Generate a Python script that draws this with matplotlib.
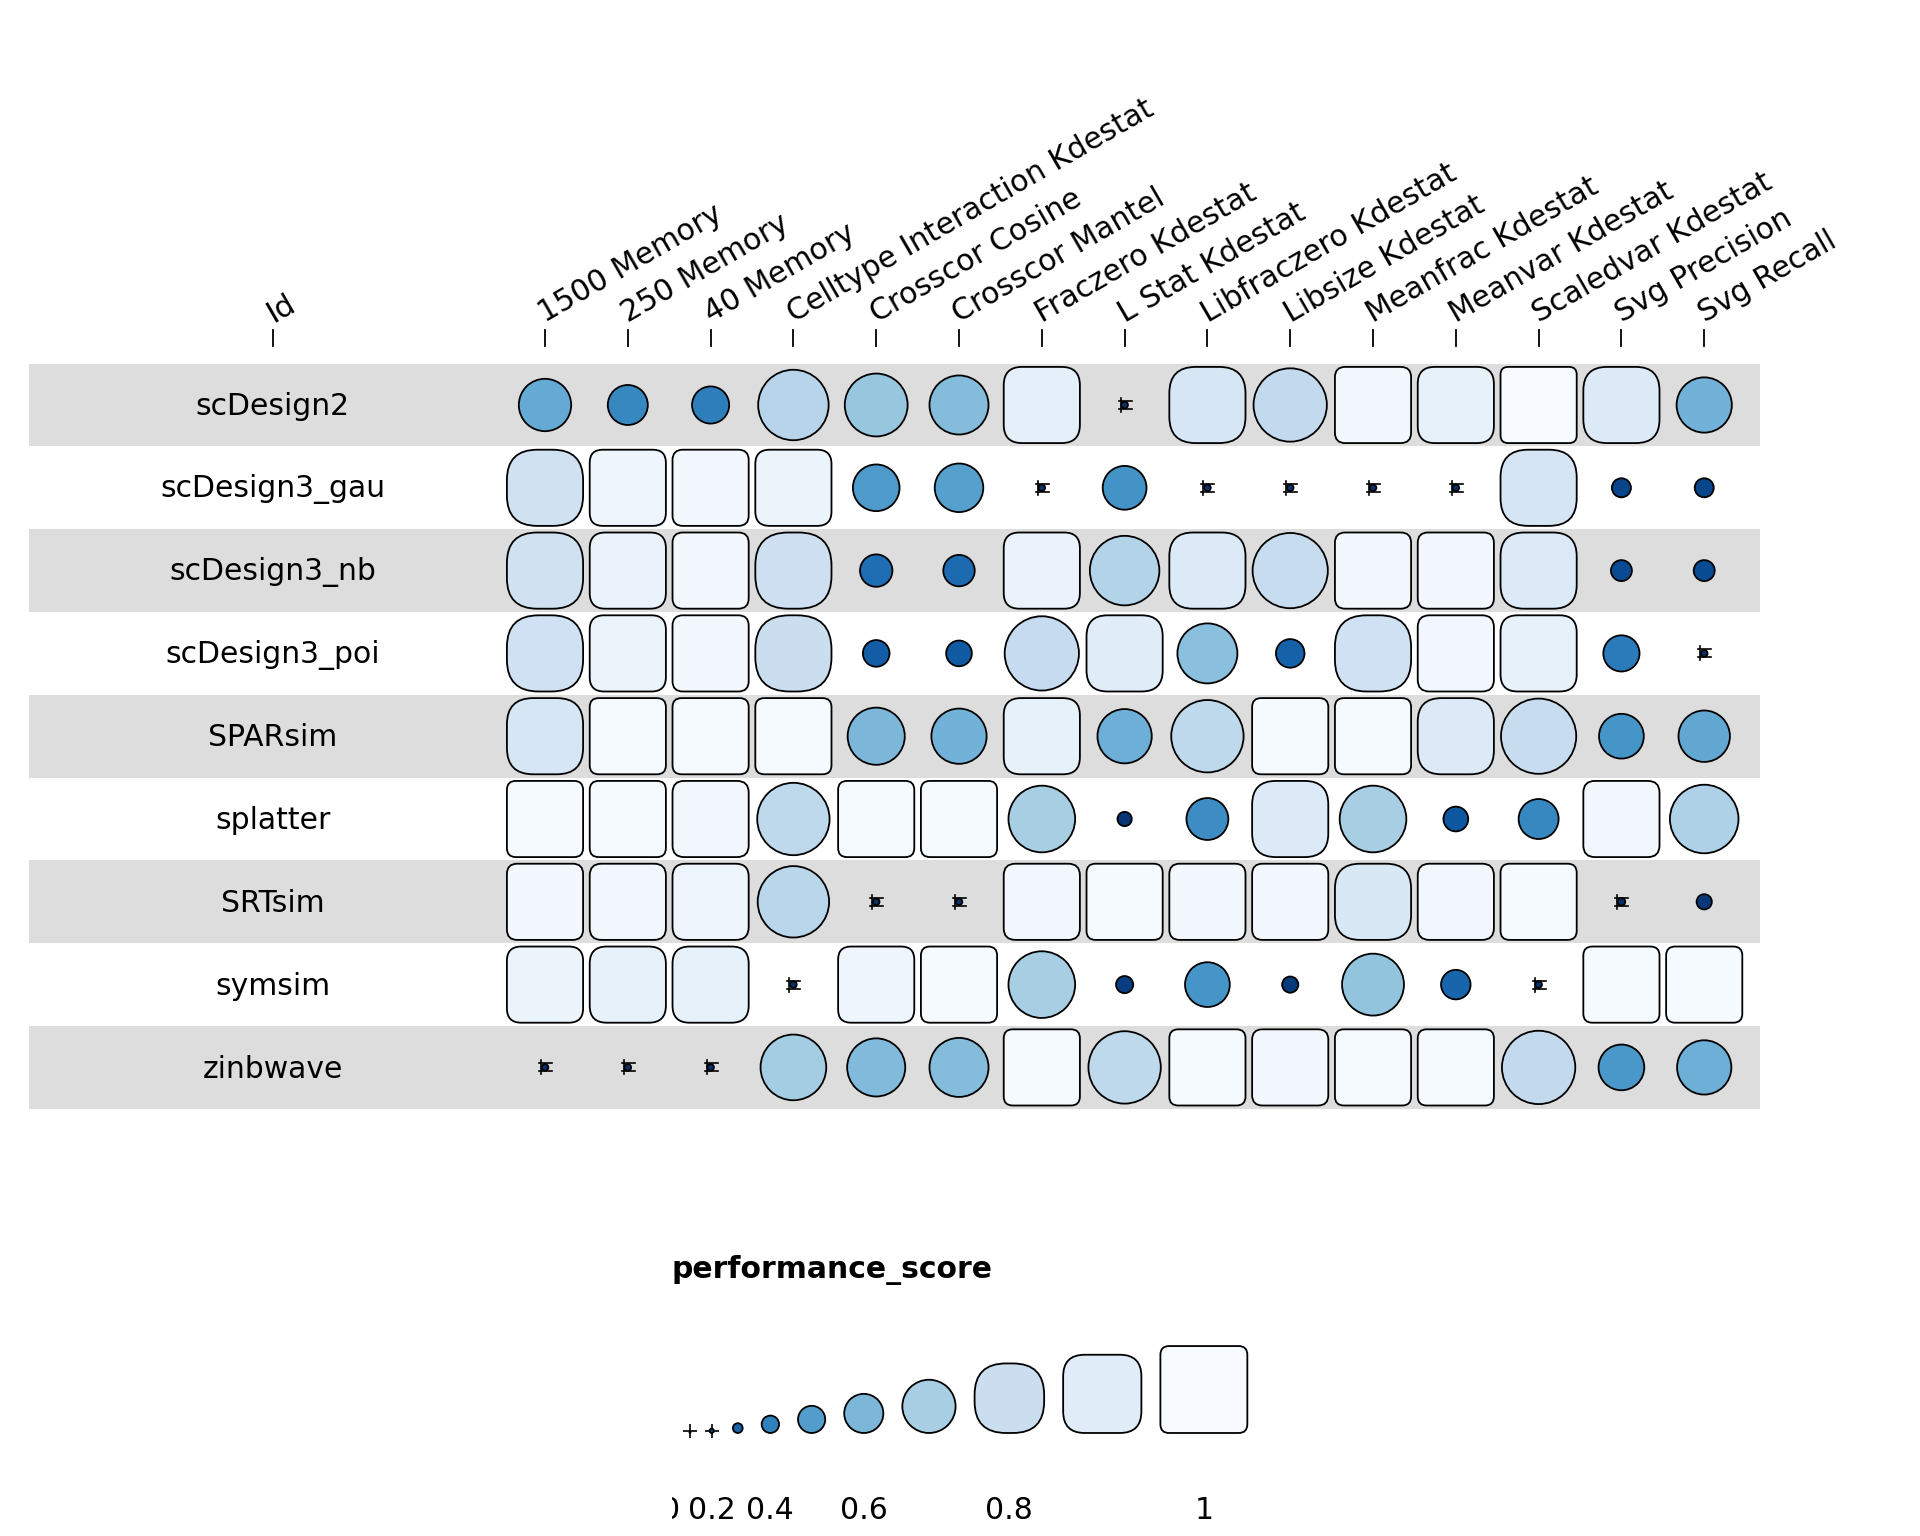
import numpy as np
import matplotlib
matplotlib.use("Agg")
import matplotlib.pyplot as plt
from matplotlib.patches import Circle, FancyBboxPatch, Rectangle

methods = ["scDesign2", "scDesign3_gau", "scDesign3_nb", "scDesign3_poi",
           "SPARsim", "splatter", "SRTsim", "symsim", "zinbwave"]

metrics = ["1500 Memory", "250 Memory", "40 Memory",
           "Celltype Interaction Kdestat", "Crosscor Cosine", "Crosscor Mantel",
           "Fraczero Kdestat", "L Stat Kdestat", "Libfraczero Kdestat",
           "Libsize Kdestat", "Meanfrac Kdestat", "Meanvar Kdestat",
           "Scaledvar Kdestat", "Svg Precision", "Svg Recall"]

scdesign2     = [0.55, 0.42, 0.39, 0.74, 0.66, 0.62, 0.92, 0.07, 0.86, 0.77, 0.98, 0.93, 1.00, 0.88, 0.58]
scdesign3_gau = [0.83, 0.96, 0.98, 0.95, 0.49, 0.51, 0.07, 0.46, 0.07, 0.07, 0.07, 0.07, 0.85, 0.20, 0.20]
scdesign3_nb  = [0.83, 0.94, 0.98, 0.81, 0.34, 0.33, 0.94, 0.73, 0.88, 0.79, 0.98, 0.98, 0.88, 0.22, 0.22]
scdesign3_poi = [0.82, 0.95, 0.98, 0.80, 0.28, 0.27, 0.78, 0.90, 0.63, 0.30, 0.82, 0.97, 0.93, 0.38, 0.07]
sparsim       = [0.86, 0.99, 0.99, 0.99, 0.60, 0.58, 0.93, 0.57, 0.76, 0.99, 0.99, 0.88, 0.79, 0.47, 0.54]
splatter      = [0.99, 0.99, 0.97, 0.76, 0.99, 0.99, 0.70, 0.15, 0.44, 0.88, 0.70, 0.26, 0.42, 0.97, 0.72]
srtsim        = [0.98, 0.97, 0.96, 0.75, 0.07, 0.07, 0.97, 0.99, 0.98, 0.98, 0.87, 0.97, 0.99, 0.08, 0.16]
symsim        = [0.95, 0.93, 0.93, 0.07, 0.96, 0.99, 0.70, 0.18, 0.47, 0.17, 0.65, 0.31, 0.07, 0.99, 0.99]
zinbwave      = [0.07, 0.07, 0.07, 0.69, 0.61, 0.62, 0.99, 0.76, 0.99, 0.98, 0.99, 0.99, 0.77, 0.48, 0.57]

scores = [scdesign2, scdesign3_gau, scdesign3_nb, scdesign3_poi, sparsim,
          splatter, srtsim, symsim, zinbwave]

legend_values = [0.0, 0.1, 0.2, 0.3, 0.4, 0.5, 0.6, 0.7, 0.8, 0.9, 1.0]
legend_labels = {0.0: "0", 0.2: "0.2", 0.4: "0.4", 0.6: "0.6", 0.8: "0.8", 1.0: "1"}

cmap = plt.get_cmap("Blues")
FS = 21.5
MID = 0.8
LW = 1.3
PX = 1 / 82.8   # one pixel in cell units


def score_color(v):
    return cmap(np.clip((1 - v) * 1.15, 0, 1))


def tiny_mark(ax, x, y, d):
    # the little bracket artefacts around near-zero dots
    h = max(d / 2, 4 * PX)
    ax.plot([x - 6 * PX, x + 7 * PX], [y - h, y - h], color="black", lw=1.2, zorder=5)
    ax.plot([x - 6 * PX, x + 7 * PX], [y + h, y + h], color="black", lw=1.2, zorder=5)
    ax.plot([x - 4 * PX, x - 4 * PX], [y - h - 3 * PX, y + h + 3 * PX],
            color="black", lw=1.2, zorder=5)


def funky_rect(ax, x, y, v, full):
    """circle below midpoint, rounded square above it"""
    col = score_color(v)
    if v < MID:
        d = full * v / MID
        ax.add_patch(Circle((x, y), d / 2, facecolor=col, edgecolor="black",
                            lw=LW, zorder=4))
        if d < 0.1:
            tiny_mark(ax, x, y, d)
    else:
        r = full * (0.45 - 1.75 * (v - MID))
        ax.add_patch(FancyBboxPatch((x - full / 2, y - full / 2), full, full,
                                    boxstyle=f"round,pad=0,rounding_size={r}",
                                    facecolor=col, edgecolor="black",
                                    lw=LW, zorder=4))


fig = plt.figure(figsize=(19.2, 15.36), dpi=100)
ax = fig.add_axes([0, 0, 1, 1])
ax.set_xlim(-6.582, 16.606)
ax.set_ylim(13.659, -4.891)
ax.axis("off")

id_x = -3.29

# row bands + labels
for i, name in enumerate(methods):
    if i % 2 == 0:
        ax.add_patch(Rectangle((-6.23, i - 0.5), 20.9, 1.0,
                               facecolor="#dddddd", edgecolor="none", zorder=1))
    ax.text(id_x, i + 0.02, name, ha="center", va="center", fontsize=FS, zorder=5)

# column headers and ticks
headers = [(id_x, "Id")] + [(j, m) for j, m in enumerate(metrics)]
for x, lab in headers:
    ax.plot([x, x], [-0.9, -0.71], color="black", lw=1.3, zorder=2)
    ax.text(x + 0.04, -0.93, lab, rotation=30, rotation_mode="anchor",
            ha="left", va="bottom", fontsize=FS)

# cells
for i, row in enumerate(scores):
    for j, v in enumerate(row):
        funky_rect(ax, j, i, v, 0.92)

# legend
leg_left = 1.53
ax.text(leg_left, 10.45, "performance_score", ha="left", va="center",
        fontsize=FS, fontweight="bold")
clip = Rectangle((leg_left, 9), 20, 6, transform=ax.transData)

base_y = 12.415
gap = 19 * PX
widths = [1.05 * v * min(v / MID, 1) for v in legend_values]
xs = [1.515]
for k in range(1, len(legend_values)):
    xs.append(xs[-1] + (widths[k - 1] + widths[k]) / 2 + gap)

for v, w, x in zip(legend_values, widths, xs):
    if v > 0:
        col = score_color(v)
        cy = base_y - w / 2
        if v < MID:
            if w < 0.09:
                ax.plot(x, base_y - 0.03, marker="+", color="black", ms=10,
                        mew=1.2, zorder=3)
            ax.add_patch(Circle((x, cy), w / 2, facecolor=col,
                                edgecolor="black", lw=LW, zorder=4))
        else:
            r = w * (0.45 - 1.75 * (v - MID))
            ax.add_patch(FancyBboxPatch((x - w / 2, base_y - w), w, w,
                                        boxstyle=f"round,pad=0,rounding_size={r}",
                                        facecolor=col, edgecolor="black",
                                        lw=LW, zorder=4))
    if v in legend_labels:
        t = ax.text(x, 13.35, legend_labels[v], ha="center", va="center",
                    fontsize=FS, clip_on=True)
        t.set_clip_path(clip)

fig.savefig("out.png", dpi=100, facecolor="white")
